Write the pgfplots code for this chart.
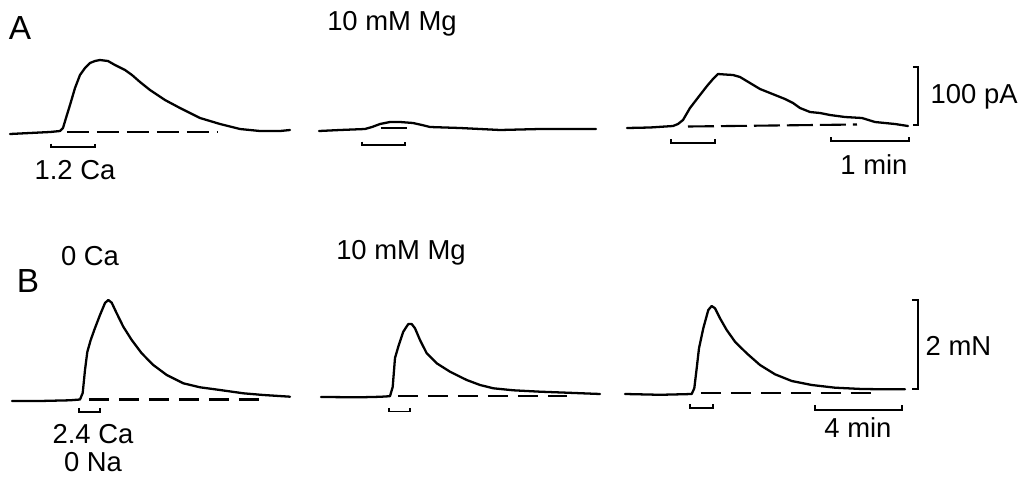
\documentclass[border=0pt]{standalone}
\usepackage{pgfplots}
\pgfplotsset{compat=1.18}
\usepackage{fontspec}
\setmainfont{Liberation Sans}
\tikzset{
  lab/.style={inner sep=0pt, font=\fontsize{7.8pt}{9pt}\selectfont},
  big/.style={inner sep=0pt, font=\fontsize{9.5pt}{10pt}\selectfont},
}
\begin{document}
\begin{tikzpicture}
\begin{axis}[
  width=10.18cm, height=4.8cm, scale only axis,
  xmin=0, xmax=1018, ymin=0, ymax=480, y dir=reverse,
  hide axis, clip=false,
  trace/.style={black, solid, mark=none, line width=0.65pt, line join=round, line cap=round},
  brk/.style={black, solid, mark=none, line width=0.5pt, line join=miter},
  base/.style={black, mark=none, line width=0.6pt},
]
% frame that fixes the picture's extent (not drawn)
\addplot[draw=none, mark=none, forget plot] coordinates {(0,0) (1018,480)};
% ---------- Panel A ----------
\addplot[trace] coordinates {(10,134) (30,133) (50,132) (60,131) (63,128) (66,118) (70,105) (75,88) (80,75) (85,68) (90,63) (95,61) (100,60) (108,61) (115,65) (125,70) (132,75) (140,82) (150,90) (165,100) (180,108) (200,118) (220,124) (240,129) (260,131) (280,131) (290,130)};
\addplot[base, dash pattern=on 2.2mm off 0.8mm] coordinates {(67,132) (218,132)};
\addplot[brk] coordinates {(51,143.5) (51,147) (95,147) (95,143.5)};
% A2
\addplot[trace] coordinates {(319,131) (340,130) (365,129) (372,127) (380,124) (390,122) (400,122) (413,123) (422,125) (430,127) (445,127.5) (460,128) (480,129) (500,130) (520,129.5) (540,129) (570,129) (596,129)};
\addplot[base, solid] coordinates {(381,128) (407,128)};
\addplot[brk] coordinates {(362,141.5) (362,145) (405,145) (405,141.5)};
% A3
\addplot[trace] coordinates {(627,128) (650,127.5) (673,126) (678,124) (683,120) (690,108) (700,95) (707,86) (713,79) (718,74) (725,74.5) (733,75) (740,77) (745,80) (760,89) (775,95) (785,99) (793,103) (800,108) (810,112) (820,113) (830,115) (845,117) (862,118) (875,122) (885,123) (895,124) (908,126)};
\addplot[base, dash pattern=on 2.6mm off 0.7mm] coordinates {(688,126.5) (857,124.5)};
\addplot[brk] coordinates {(671,139) (671,143) (715,143) (715,139)};
% 1 min bar
\addplot[brk] coordinates {(831,137) (831,141) (909,141) (909,137)};
% 100 pA bar
\addplot[brk] coordinates {(913,67) (918,67) (918,125) (913,125)};
% ---------- Panel B ----------
\addplot[trace] coordinates {(12,401) (40,401) (70,400.3) (80,399.5) (82.7,393) (85,370) (87.3,352) (90.7,340) (95,328) (100,315) (105,303) (108.3,300) (111.7,302.7) (116.7,313.3) (123.3,326.7) (131.7,340) (141.7,353.3) (153.3,365) (166.7,375) (183.3,383.3) (200,387.3) (220,390) (243.3,393.3) (263.3,395) (290,396.7)};
\addplot[base, dash pattern=on 2.0mm off 1.0mm] coordinates {(89,399.5) (262,399.5)};
\addplot[brk] coordinates {(79,408) (79,412) (100,412) (100,408)};
% B2
\addplot[trace] coordinates {(321,397) (360,397.3) (380,396.8) (390,396.2) (392.7,387) (395,358) (398.3,346.7) (403.3,331.7) (408.3,324) (411.7,324) (415,328.3) (420,340) (426.7,353.3) (436.7,363.3) (450,371.7) (466.7,380) (480,385) (493.3,388.3) (513.3,390.3) (540,391.7) (566.7,392.7) (600,394)};
\addplot[base, dash pattern=on 2.0mm off 1.0mm] coordinates {(398,396.3) (567,396.3)};
\addplot[brk] coordinates {(389,408) (389,411.5) (410,411.5) (410,408)};
% B3
\addplot[trace] coordinates {(625,394) (660,394.8) (685,394.2) (691.7,394) (694.3,388.3) (696.7,368.3) (699,348.3) (703.3,328.3) (708.3,310) (711.7,306) (715,308.3) (720,318.3) (726.7,330) (735,341.7) (746.7,353.3) (760,365) (775,374.3) (791.7,381) (811.7,385) (835,387.7) (861.7,389) (885,389.3) (905,389.3)};
\addplot[base, dash pattern=on 2.0mm off 1.0mm] coordinates {(701,393.3) (873,393.3)};
\addplot[brk] coordinates {(690,404) (690,408) (713,408) (713,404)};
% 4 min bar
\addplot[brk] coordinates {(815,405) (815,410) (902,410) (902,405)};
% 2 mN bar
\addplot[brk] coordinates {(912,300) (918,300) (918,389) (912,389)};
% ---------- Labels ----------
\node[big] at (axis cs:20,28) {A};
\node[lab] at (axis cs:392,24) {10 mM Mg};
\node[lab] at (axis cs:75,170) {1.2 Ca};
\node[lab] at (axis cs:874,165) {1 min};
\node[lab, anchor=west] at (axis cs:930,97) {100 pA};
\node[big] at (axis cs:28,281) {B};
\node[lab] at (axis cs:90,256) {0 Ca};
\node[lab] at (axis cs:401,253) {10 mM Mg};
\node[lab] at (axis cs:93,434) {2.4 Ca};
\node[lab] at (axis cs:93,462) {0 Na};
\node[lab] at (axis cs:858,428) {4 min};
\node[lab, anchor=west] at (axis cs:925,346) {2 mN};
\end{axis}
\end{tikzpicture}
\end{document}
